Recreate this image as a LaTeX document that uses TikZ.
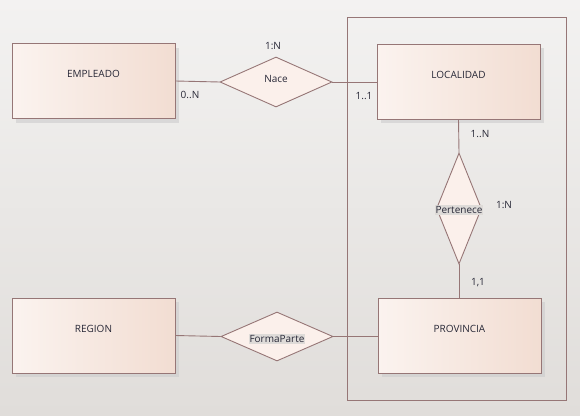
\documentclass[tikz,border=0pt]{standalone}
\usepackage{fontspec}
\setmainfont{Open Sans}
\usetikzlibrary{shapes.geometric,shadows}
\definecolor{edge}{RGB}{150,118,118}
\definecolor{boxl}{RGB}{251,243,239}
\definecolor{boxr}{RGB}{242,221,210}
\definecolor{relfill}{RGB}{251,240,235}
\definecolor{hilite}{RGB}{222,219,216}
\definecolor{ink}{RGB}{40,40,55}
\definecolor{bgtop}{RGB}{243,242,241}
\definecolor{bgbot}{RGB}{224,221,218}

\begin{document}
\begin{tikzpicture}
[x=1pt, y=-1pt,
font=\fontsize{10}{12}\selectfont, text=ink,
entity/.style={draw=edge, line width=0.9pt, left color=boxl, right color=boxr, minimum width=163pt, minimum height=75pt, inner sep=0pt, text height=7pt, text depth=14pt, drop shadow={shadow xshift=4pt, shadow yshift=-4pt, fill=black!20, opacity=0.6}},
relation/.style={diamond, draw=edge, line width=0.9pt, fill=relfill, inner sep=0pt},
rname/.style={fill=hilite, inner sep=1pt},
card/.style={inner sep=1pt},
link/.style={draw=edge, line width=0.9pt}]
\useasboundingbox (0,0) rectangle (580,415);
\shade[top color=bgtop, bottom color=bgbot] (0,0) rectangle (580,415);
\draw[link] (347,17) rectangle (566,400);
\node[entity] (emp) at (93.5,81) {EMPLEADO};
\node[entity] (loc) at (458.5,81.5) {LOCALIDAD};
\node[entity] (reg) at (93.5,335.5) {REGION};
\node[entity] (prov) at (459.5,335.5) {PROVINCIA};
\node[relation, minimum width=112pt, minimum height=50pt] (nace) at (276,82) {};
\node[relation, minimum width=45pt, minimum height=111pt] (pert) at (459,208.5) {};
\node[relation, minimum width=112pt, minimum height=49pt] (forma) at (277,336.5) {};
\draw[link] (emp.east) -- (nace.west);
\draw[link] (nace.east) -- (nace.east -| loc.west);
\draw[link] (loc.south) -- (pert.north);
\draw[link] (pert.south) -- (pert.south |- prov.north);
\draw[link] (reg.east) -- (forma.west);
\draw[link] (forma.east) -- (forma.east -| prov.west);
\node[inner sep=1pt] (nacet) at (276,79) {Nace};
\node[rname] (pertt) at (459,210) {Pertenece};
\node[rname] (format) at (277,339) {FormaParte};
\node[card] (c1) at (273,46) {1:N};
\node[card] (c2) at (190,95) {0..N};
\node[card] (c3) at (364,96) {1..1};
\node[card] (c4) at (480,134) {1..N};
\node[card] (c5) at (504,205) {1:N};
\node[card] (c6) at (478,283) {1,1};
\end{tikzpicture}
\end{document}
